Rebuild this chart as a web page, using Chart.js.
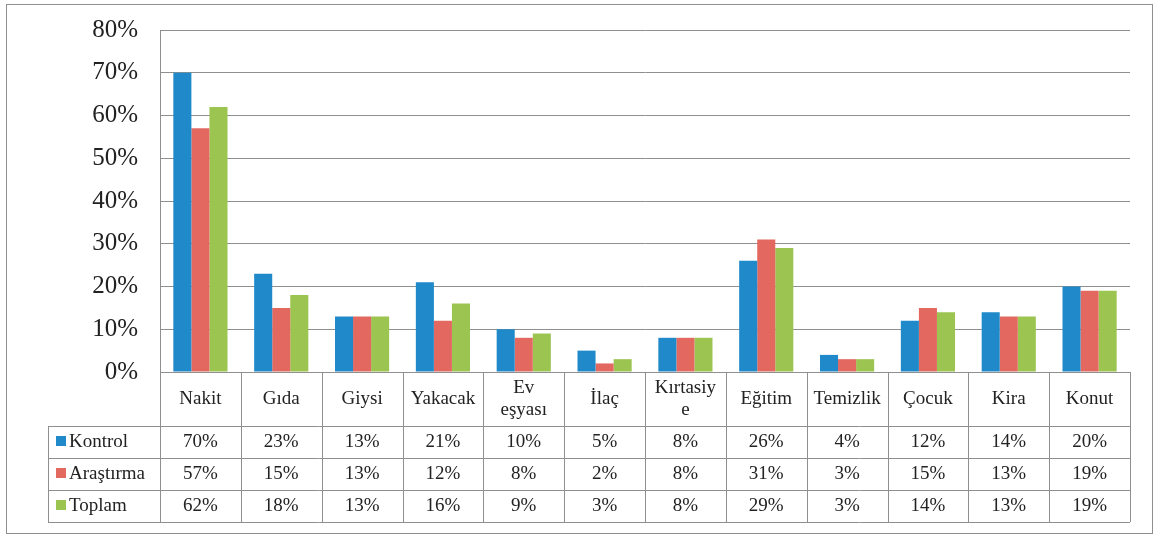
<!DOCTYPE html>
<html>
<head>
<meta charset="utf-8">
<script src="https://cdn.jsdelivr.net/npm/chart.js@4.4.0/dist/chart.umd.min.js"></script>
<style>
  html, body { margin: 0; padding: 0; background: #fff; }
  #wrap { width: 1158px; height: 537px; }
</style>
</head>
<body>
<div id="wrap"><canvas id="chart" width="1158" height="537"></canvas></div>
<script>
const categories = ['Nakit', 'Gıda', 'Giysi', 'Yakacak', ['Ev', 'eşyası'], 'İlaç', ['Kırtasiy', 'e'], 'Eğitim', 'Temizlik', 'Çocuk', 'Kira', 'Konut'];
const kontrol = [70, 23, 13, 21, 10, 5, 8, 26, 4, 12, 14, 20];
const arastirma = [57, 15, 13, 12, 8, 2, 8, 31, 3, 15, 13, 19];
const toplam = [62, 18, 13, 16, 9, 3, 8, 29, 3, 14, 13, 19];
const yTicks = [0, 10, 20, 30, 40, 50, 60, 70, 80];

const serif = '"Liberation Serif", "DejaVu Serif", serif';
const lineColor = '#8f8f8f';

// draws the white page, the outer frame and the data table under the plot
const tablePlugin = {
  id: 'dataTable',
  beforeDraw(chart) {
    const c = chart.ctx;
    c.save();
    c.fillStyle = '#fff';
    c.fillRect(0, 0, chart.width, chart.height);
    c.strokeStyle = lineColor;
    c.lineWidth = 1;
    c.strokeRect(6.5, 4.5, chart.width - 12, chart.height - 8);
    c.restore();
  },
  afterDraw(chart) {
    const c = chart.ctx;
    const area = chart.chartArea;
    const n = categories.length;
    const w = (area.right - area.left) / n;
    const catTop = area.bottom;
    const catBottom = catTop + 54;
    const rowH = 32;
    const legLeft = 48;
    const rows = chart.data.datasets;
    const tableBottom = catBottom + rowH * rows.length;

    c.save();
    c.strokeStyle = lineColor;
    c.lineWidth = 1;
    c.beginPath();
    // horizontal lines
    c.moveTo(area.left, catTop + 0.5); c.lineTo(area.right, catTop + 0.5);
    for (let r = 0; r <= rows.length; r++) {
      const y = Math.round(catBottom + r * rowH) + 0.5;
      c.moveTo(legLeft, y); c.lineTo(area.right, y);
    }
    // vertical lines
    for (let i = 0; i <= n; i++) {
      const x = Math.round(area.left + i * w) + 0.5;
      c.moveTo(x, catTop); c.lineTo(x, tableBottom);
    }
    c.moveTo(legLeft + 0.5, catBottom); c.lineTo(legLeft + 0.5, tableBottom);
    c.stroke();

    c.fillStyle = '#222';
    c.font = '19px ' + serif;
    c.textAlign = 'center';
    c.textBaseline = 'middle';
    categories.forEach((lab, i) => {
      const cx = chart.scales.x.getPixelForValue(i);
      const lines = Array.isArray(lab) ? lab : [lab];
      const lh = 22;
      const y0 = (catTop + catBottom) / 2 - (lines.length - 1) * lh / 2;
      lines.forEach((t, k) => c.fillText(t, cx, y0 + k * lh));
    });

    rows.forEach((ds, r) => {
      const cy = catBottom + r * rowH + rowH / 2;
      c.fillStyle = ds.backgroundColor;
      c.fillRect(legLeft + 8, cy - 6, 10, 10);
      c.fillStyle = '#222';
      c.textAlign = 'left';
      c.fillText(ds.label, legLeft + 21, cy);
      c.textAlign = 'center';
      ds.data.forEach((v, i) => {
        c.fillText(v + '%', chart.scales.x.getPixelForValue(i), cy);
      });
    });
    c.restore();
  }
};

new Chart(document.getElementById('chart').getContext('2d'), {
  type: 'bar',
  data: {
    labels: categories,
    datasets: [
      { label: 'Kontrol', data: kontrol, backgroundColor: 'rgb(31, 137, 201)' },
      { label: 'Araştırma', data: arastirma, backgroundColor: 'rgb(226, 104, 96)' },
      { label: 'Toplam', data: toplam, backgroundColor: 'rgb(155, 196, 80)' },
    ],
  },
  options: {
    responsive: false,
    animation: false,
    categoryPercentage: 0.67,
    barPercentage: 1,
    layout: {
      padding: { left: 10, top: 30, right: 28, bottom: 165 },
    },
    plugins: {
      legend: { display: false },
      tooltip: { enabled: false },
    },
    scales: {
      x: {
        display: false,
      },
      y: {
        min: 0,
        max: 80,
        afterFit(scale) {
          scale.width = 150;
          scale.paddingTop = 0;
          scale.paddingBottom = 0;
        },
        afterBuildTicks(scale) { scale.ticks = yTicks.map(v => ({ value: v })); },
        border: { display: true, color: lineColor },
        grid: { color: lineColor, drawTicks: false },
        ticks: {
          padding: 22,
          color: '#222',
          font: { family: serif, size: 25 },
          callback: v => v + '%',
        },
      },
    },
  },
  plugins: [tablePlugin],
});
</script>
</body>
</html>
